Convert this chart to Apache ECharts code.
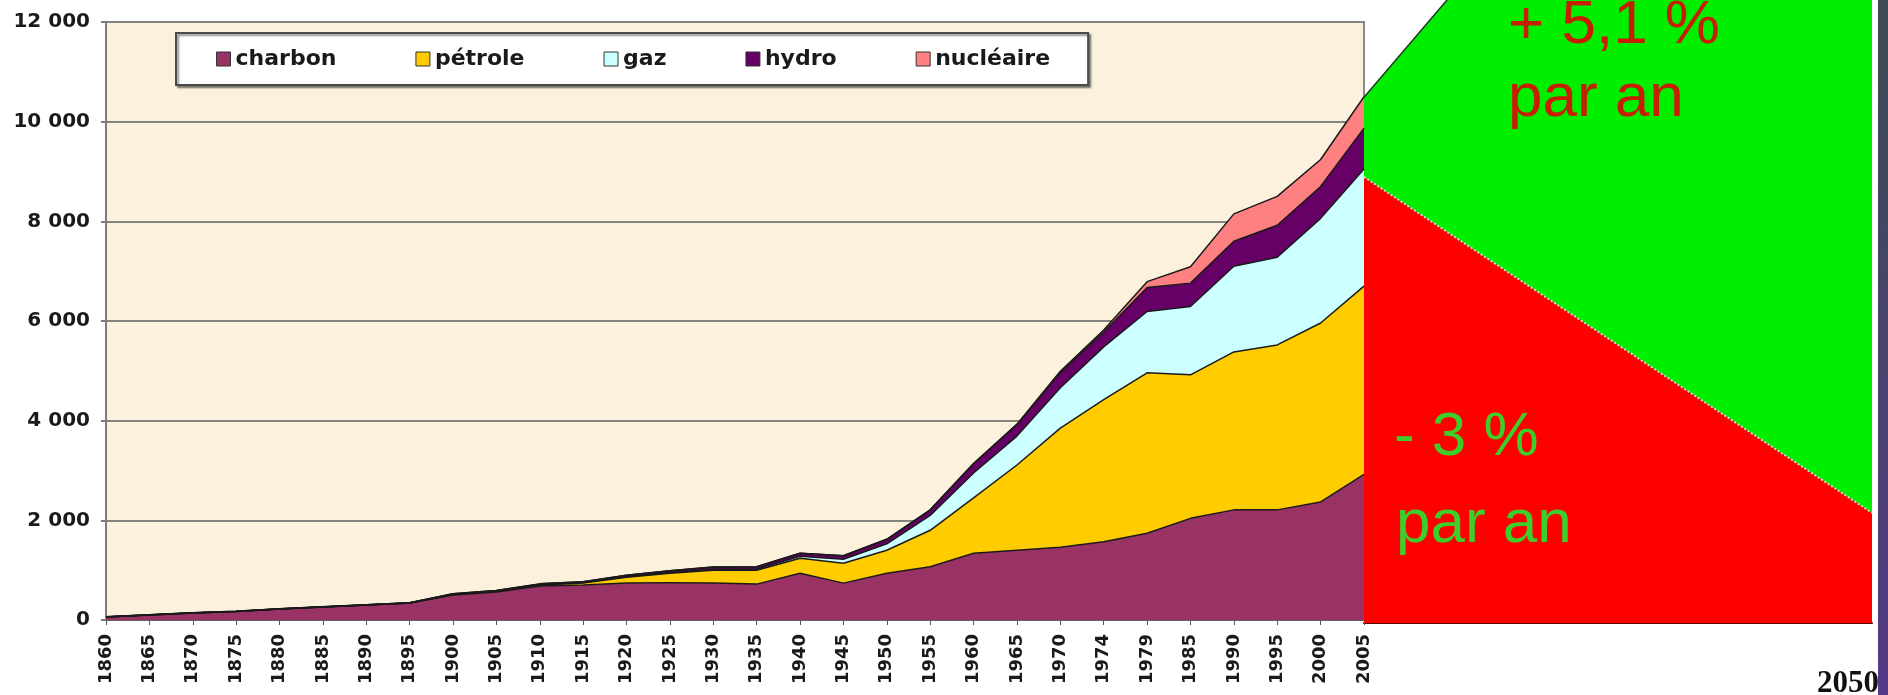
<!DOCTYPE html>
<html>
<head>
<meta charset="utf-8">
<script src="https://cdn.jsdelivr.net/npm/echarts@6/dist/echarts.min.js"></script>
<style>
  html, body { margin: 0; padding: 0; background: #fff; }
  #chart { width: 1888px; height: 695px; }
</style>
</head>
<body>
<div id="chart"></div>
<script>
// consommation mondiale d'énergie (Mtep)
const years = ['1860', '1865', '1870', '1875', '1880', '1885', '1890', '1895', '1900', '1905',
  '1910', '1915', '1920', '1925', '1930', '1935', '1940', '1945', '1950', '1955',
  '1960', '1965', '1970', '1974', '1979', '1985', '1990', '1995', '2000', '2005']

const charbon = [60, 100, 140, 170, 220, 260, 300, 340, 500, 560,
  680, 700, 740, 750, 740, 720, 940, 740, 940, 1070,
  1340, 1400, 1460, 1570, 1740, 2040, 2210, 2210, 2370, 2920]
const petrole = [0, 0, 0, 0, 0, 0, 0, 0, 10, 15,
  20, 40, 120, 190, 260, 280, 300, 400, 460, 730,
  1110, 1710, 2390, 2850, 3220, 2880, 3170, 3310, 3590, 3780]
const gaz = [0, 0, 0, 0, 0, 0, 0, 0, 5, 5,
  10, 10, 10, 15, 20, 20, 40, 80, 130, 300,
  500, 580, 810, 1060, 1230, 1370, 1720, 1760, 2100, 2350]
const hydro = [5, 5, 5, 5, 5, 5, 8, 8, 10, 12,
  15, 20, 30, 35, 45, 50, 60, 70, 90, 110,
  190, 230, 310, 300, 480, 470, 500, 640, 640, 820]
const nucleaire = [0, 0, 0, 0, 0, 0, 0, 0, 0, 0,
  0, 0, 0, 0, 0, 0, 0, 0, 0, 0,
  0, 10, 20, 40, 120, 330, 550, 580, 540, 630]

const names = ['charbon', 'pétrole', 'gaz', 'hydro', 'nucléaire']
const colors = ['#993366', '#ffcc00', '#ccffff', '#660066', '#ff8080']

// tendances 2005 -> 2050
const projYears = [2005, 2050]
const hausse = [10550, 22480]
const baisse = [8950, 2210]

const yTicks = v => String(v).replace(/\B(?=(\d{3})+(?!\d))/g, ' ')

const chart = echarts.init(document.getElementById('chart'))

const area = (name, data, color) => ({
  name: name,
  type: 'line',
  stack: 'total',
  xAxisIndex: 0,
  yAxisIndex: 0,
  data: data.map((v, i) => [years[i], v]),
  symbol: 'none',
  lineStyle: { color: '#1a1a1a', width: 1.5 },
  areaStyle: { color: color, opacity: 1 },
  itemStyle: { color: color },
  emphasis: { disabled: true }
})

const labelFont = { fontFamily: 'DejaVu Sans', fontWeight: 'bold', color: '#1a1a1a' }

const note = (text, x, y, fill) => ({
  type: 'text', x: x, y: y, z: 100,
  style: { text: text, font: '62px "Liberation Sans"', fill: fill, verticalAlign: 'middle' }
})

chart.setOption({
  backgroundColor: '#ffffff',
  animation: false,
  legend: {
    data: names,
    left: 176,
    top: 33,
    icon: 'rect',
    itemWidth: 14,
    itemHeight: 14,
    itemGap: 79,
    padding: [15, 38, 15, 40],
    backgroundColor: '#ffffff',
    borderColor: '#4a4a4a',
    borderWidth: 2,
    shadowColor: 'rgba(0,0,0,0.45)',
    shadowBlur: 2,
    shadowOffsetX: 2,
    shadowOffsetY: 2,
    itemStyle: { borderColor: '#333', borderWidth: 1 },
    textStyle: Object.assign({ fontSize: 22 }, labelFont),
    selectedMode: false
  },
  grid: [
    {
      left: 106, right: 524, top: 22, bottom: 75,
      show: true,
      backgroundColor: '#fcf1dd',
      borderColor: '#8a8a82',
      borderWidth: 2
    },
    { left: 1364, right: 16, top: 0, bottom: 72 }
  ],
  xAxis: [
    {
      type: 'category',
      gridIndex: 0,
      data: years,
      boundaryGap: false,
      axisLine: { lineStyle: { color: '#555', width: 1.5 } },
      axisTick: { interval: 0, length: 5, lineStyle: { color: '#555' } },
      axisLabel: Object.assign({ interval: 0, rotate: 90, margin: 14, fontSize: 18 }, labelFont),
      splitLine: { show: false }
    },
    {
      type: 'value',
      gridIndex: 1,
      min: 2005,
      max: 2050,
      axisLine: { show: true, lineStyle: { color: '#600000', width: 2 } },
      axisTick: { show: false },
      axisLabel: { show: false },
      splitLine: { show: false }
    }
  ],
  yAxis: [
    {
      type: 'value',
      gridIndex: 0,
      min: 0,
      max: 12000,
      interval: 2000,
      axisLine: { show: true, lineStyle: { color: '#7d7d75', width: 2 } },
      axisTick: { show: true, length: 5, lineStyle: { color: '#7d7d75', width: 2 } },
      splitLine: { lineStyle: { color: '#86857d', width: 2 } },
      axisLabel: Object.assign({ formatter: yTicks, margin: 16, fontSize: 20 }, labelFont)
    },
    {
      type: 'value',
      gridIndex: 1,
      min: 0,
      max: 12500,
      show: false
    }
  ],
  series: [
    area(names[0], charbon, colors[0]),
    area(names[1], petrole, colors[1]),
    area(names[2], gaz, colors[2]),
    area(names[3], hydro, colors[3]),
    area(names[4], nucleaire, colors[4]),
    {
      name: '+ 5,1 %',
      type: 'line',
      xAxisIndex: 1,
      yAxisIndex: 1,
      data: projYears.map((y, i) => [y, hausse[i]]),
      symbol: 'none',
      clip: true,
      lineStyle: { color: '#1f3a1f', width: 1.5 },
      areaStyle: { color: '#00ee00', opacity: 1 },
      emphasis: { disabled: true },
      z: 2
    },
    {
      name: '- 3 %',
      type: 'line',
      xAxisIndex: 1,
      yAxisIndex: 1,
      data: projYears.map((y, i) => [y, baisse[i]]),
      symbol: 'none',
      clip: true,
      lineStyle: { color: '#d8d8d8', width: 2, type: 'dotted' },
      areaStyle: { color: '#ff0000', opacity: 1 },
      emphasis: { disabled: true },
      z: 3
    }
  ],
  graphic: [
    {
      type: 'rect',
      z: 100,
      shape: { x: 1878, y: 0, width: 10, height: 695 },
      style: {
        fill: new echarts.graphic.LinearGradient(0, 0, 0, 1, [
          { offset: 0, color: '#3c4c52' },
          { offset: 1, color: '#553a86' }
        ])
      }
    },
    note('+ 5,1 %', 1508, 26, '#c81e00'),
    note('par an', 1508, 99, '#c81e00'),
    note('- 3 %', 1394, 438, '#3ccf2c'),
    note('par an', 1396, 525, '#3ccf2c'),
    {
      type: 'text', x: 1817, y: 684, z: 100,
      style: { text: '2050', font: 'bold 31px "Liberation Serif"', fill: '#111', verticalAlign: 'middle' }
    }
  ]
})
</script>
</body>
</html>
